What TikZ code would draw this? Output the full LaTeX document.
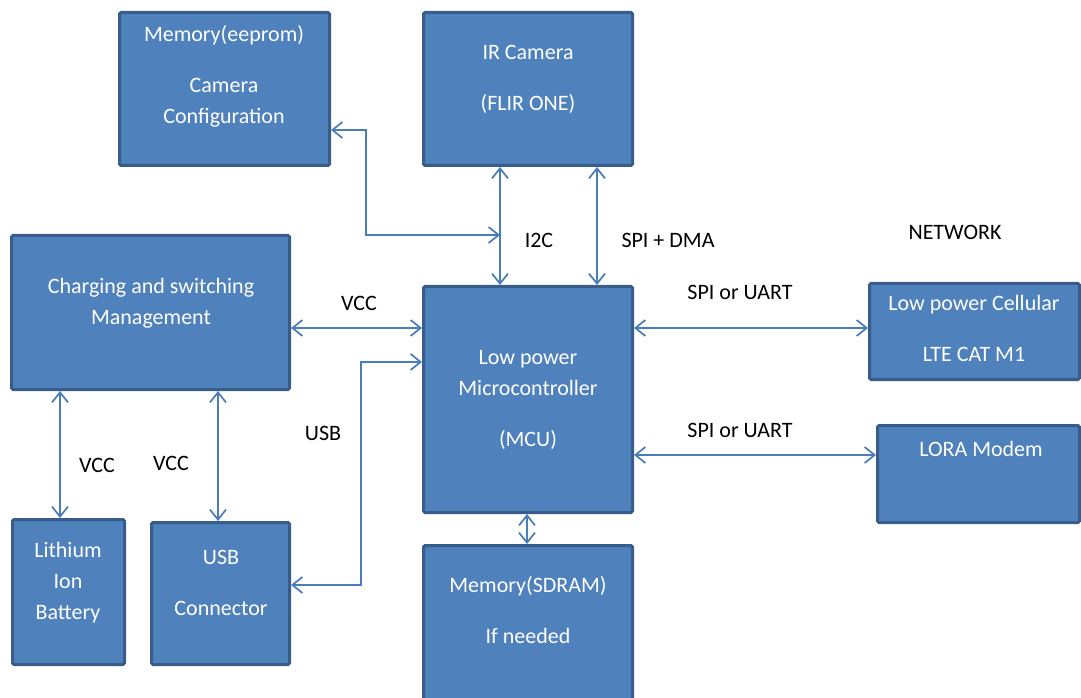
\documentclass[tikz,border=0pt]{standalone}
\usepackage{fontspec}
\setmainfont{Carlito}
\usetikzlibrary{arrows.meta}
\definecolor{boxfill}{HTML}{4F81BD}
\definecolor{boxedge}{HTML}{385D8A}
\definecolor{wire}{HTML}{4A7EBB}
\tikzset{
  blk/.style={draw=boxedge, fill=boxfill, line width=2.25pt, rounded corners=1.2pt, inner sep=0pt},
  % anchor=base sits on the baseline of the last line
  boxtext/.style={text=white, align=center, anchor=base, inner sep=0pt,
    font=\fontsize{16.5}{23.25}\selectfont},
  lbl/.style={text=black, anchor=base, inner sep=0pt, font=\fontsize{16.5}{20}\selectfont},
  conn/.style={draw=wire, line width=1.3pt,
    {Straight Barb[length=7.5pt,width=12pt]}-{Straight Barb[length=7.5pt,width=12pt]}},
}
\begin{document}
\begin{tikzpicture}[x=0.75pt, y=-0.75pt]
\useasboundingbox (0,0) rectangle (1081,698);
\clip (0,0) rectangle (1081,698);

% blocks (centre, outer size minus border)
\node[blk, minimum width=210*0.75pt, minimum height=153*0.75pt] (eeprom) at (224.5,89) {};
\node[blk, minimum width=209*0.75pt, minimum height=153*0.75pt] (ircam) at (528,89) {};
\node[blk, minimum width=278*0.75pt, minimum height=154*0.75pt] (charge) at (150.5,312.5) {};
\node[blk, minimum width=209*0.75pt, minimum height=226*0.75pt] (mcu) at (528,399.5) {};
\node[blk, minimum width=210*0.75pt, minimum height=96*0.75pt] (cell) at (974.5,331.5) {};
\node[blk, minimum width=202*0.75pt, minimum height=97*0.75pt] (lora) at (978.5,474) {};
\node[blk, minimum width=112*0.75pt, minimum height=145*0.75pt] (battery) at (68.5,592) {};
\node[blk, minimum width=138*0.75pt, minimum height=142*0.75pt] (usbcon) at (220.5,593.5) {};
\node[blk, minimum width=209*0.75pt, minimum height=158*0.75pt] (sdram) at (528,624.5) {};

% block texts
\node[boxtext] (eepromT) at (224,124) {Memory(eeprom)\\[15pt]Camera\\Configuration};
\node[boxtext] (ircamT) at (528,111) {IR Camera\\[15pt](FLIR ONE)};
\node[boxtext] (chargeT) at (151,325) {Charging and switching\\Management};
\node[boxtext] (mcuT) at (528,446) {Low power\\Microcontroller\\[15pt](MCU)};
\node[boxtext] (cellT) at (974,362) {Low power Cellular\\[15pt]LTE CAT M1};
\node[boxtext] (loraT) at (981,456) {LORA Modem};
\node[boxtext] (batteryT) at (68,619) {Lithium\\Ion\\Battery};
\node[boxtext] (usbconT) at (221,615) {USB\\[15pt]Connector};
\node[boxtext] (sdramT) at (528,643) {Memory(SDRAM)\\[15pt]If needed};

% junction points of the bent wires
\coordinate (i2cx) at (500,0);
\coordinate (spix) at (597,0);
\coordinate (eepJ) at (366,130);
\coordinate (i2cJ) at (500,235);
\coordinate (usbJ) at (361,585);
\coordinate (usbK) at (361,362);
\coordinate (vccy) at (0,328);
\coordinate (celly) at (0,328);
\coordinate (loray) at (0,455);
\coordinate (batx) at (60,0);
\coordinate (usbx) at (218,0);
\coordinate (ramx) at (527,0);

% connectors
\draw[conn] (eeprom.east |- eepJ) -- (eepJ) -- (eepJ |- i2cJ) -- (i2cJ);
\draw[conn] (ircam.south -| i2cx) -- (mcu.north -| i2cx);
\draw[conn] (ircam.south -| spix) -- (mcu.north -| spix);
\draw[conn] (charge.east |- vccy) -- (mcu.west |- vccy);
\draw[conn] (usbcon.east |- usbJ) -- (usbJ) -- (usbK) -- (mcu.west |- usbK);
\draw[conn] (charge.south -| batx) -- (battery.north -| batx);
\draw[conn] (charge.south -| usbx) -- (usbcon.north -| usbx);
\draw[conn] (mcu.east |- celly) -- (cell.west |- celly);
\draw[conn] (mcu.east |- loray) -- (lora.west |- loray);
\draw[conn] (mcu.south -| ramx) -- (sdram.north -| ramx);

% wire labels
\node[lbl] (lI2C) at (539,248) {I2C};
\node[lbl] (lSPI) at (668,248) {SPI + DMA};
\node[lbl] (lNet) at (955,240) {NETWORK};
\node[lbl] (lVcc) at (359,311) {VCC};
\node[lbl] (lUsb) at (323,440) {USB};
\node[lbl] (lVccA) at (97,472) {VCC};
\node[lbl] (lVccB) at (171,470) {VCC};
\node[lbl] (lCell) at (740,300) {SPI or UART};
\node[lbl] (lLora) at (740,437) {SPI or UART};
\end{tikzpicture}
\end{document}
